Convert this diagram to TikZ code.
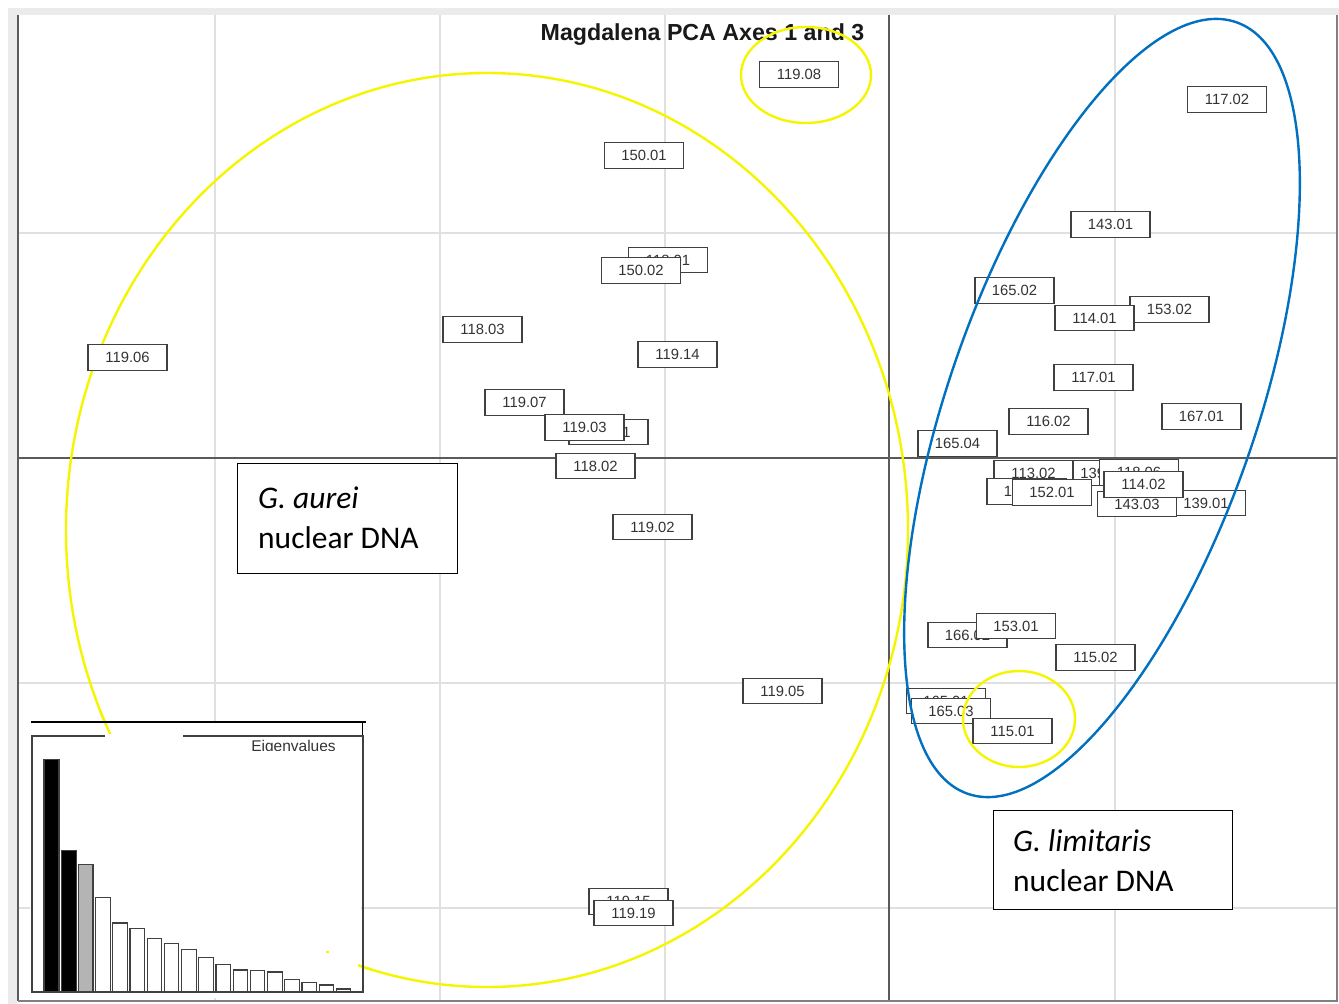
\documentclass[tikz,border=0pt]{standalone}
\usepackage{fontspec}
\setmainfont{Liberation Sans}
\newfontfamily\calfont{Carlito}
\definecolor{labc}{HTML}{404040}
\definecolor{labtext}{HTML}{333333}
\definecolor{gridc}{HTML}{E0E0E0}
\definecolor{axisc}{HTML}{5A5A5A}
\definecolor{bandc}{HTML}{EBEBEB}
\definecolor{yelc}{HTML}{F5F500}
\definecolor{bluc}{HTML}{0070C0}
\definecolor{barg}{HTML}{B4B4B4}
\tikzset{
  lab/.style={draw=labc, line width=1.2pt, fill=white, minimum width=79pt, minimum height=25.5pt, inner sep=0pt, font=\fontsize{14.8}{16}\selectfont, text=labtext},
  gridline/.style={draw=gridc, line width=1.2pt},
  axisline/.style={draw=axisc, line width=1.6pt},
  yel/.style={draw=yelc, line width=2.4pt},
  blu/.style={draw=bluc, line width=2.4pt},
  txtbox/.style={draw=black, line width=1.2pt, fill=white, inner sep=0pt, anchor=north west},
  txtlab/.style={anchor=west, align=left, inner sep=0pt, font=\calfont\fontsize{31.5}{40}\selectfont},
  barw/.style={draw=labc, line width=1.1pt, fill=white},
  barb/.style={draw=labc, line width=1.1pt, fill=black},
  bargr/.style={draw=labc, line width=1.1pt, fill=barg}
}
\begin{document}
\begin{tikzpicture}[x=1pt,y=-1pt]
\useasboundingbox (0,0) rectangle (1339,1004);
\fill[white] (0,0) rectangle (1339,1004);
% outer bands
\fill[bandc] (8,8) rectangle (1339,15);
\fill[bandc] (8,8) rectangle (17,1004);
% grid
\foreach \gx in {215,440,665,1115} \draw[gridline] (\gx,15) -- (\gx,1000);
\foreach \gy in {233,683,908} \draw[gridline] (18,\gy) -- (1336,\gy);
% frame
\draw[draw=axisc, line width=2pt] (18,15) -- (18,1001);
\draw[draw=gray, line width=2pt] (18,1001) -- (1337,1001) -- (1337,15);
% axes
\draw[axisline] (889,15) -- (889,1000);
\draw[axisline] (18,458) -- (1337,458);
% title
\node[font=\bfseries\fontsize{23.2}{26}\selectfont, text=black!90, anchor=base, inner sep=0pt] (title) at (702.5,40) {Magdalena PCA Axes 1 and 3};
% big yellow ellipse
\draw[yel] (487,530) ellipse [x radius=421, y radius=457];
% labels
\node[lab] (l11908) at (799,74.5) {119.08};
\node[lab] (l11702) at (1227,99.5) {117.02};
\node[lab] (l15001) at (644,155.5) {150.01};
\node[lab] (l14301) at (1110.5,224.5) {143.01};
\node[lab] (l11801) at (668,260) {118.01};
\node[lab] (l15002) at (641,270.5) {150.02};
\node[lab] (l16502) at (1014.5,290.5) {165.02};
\node[lab] (l15302) at (1169.5,309.5) {153.02};
\node[lab] (l11401) at (1094.5,318) {114.01};
\node[lab] (l11803) at (482.5,329.5) {118.03};
\node[lab] (l11906) at (127.5,357.5) {119.06};
\node[lab] (l11914) at (677.5,354.5) {119.14};
\node[lab] (l11701) at (1093.5,377.5) {117.01};
\node[lab] (l11907) at (524.5,402.5) {119.07};
\node[lab] (l11902) at (608.5,432) {119.01};
\node[lab] (l11903) at (584.5,427.5) {119.03};
\node[lab] (l11602) at (1048.5,421.5) {116.02};
\node[lab] (l16701) at (1201.5,416.5) {167.01};
\node[lab] (l16504) at (957.5,443.5) {165.04};
\node[lab] (l11802) at (595.5,466) {118.02};
\node[lab] (l13902) at (1103,473) {139.02};
\node[lab] (l11302) at (1033.5,473) {113.02};
\node[lab] (l16601) at (1026.5,491.5) {165.01};
\node[lab] (l15201) at (1052,492.5) {152.01};
\node[lab] (l11804) at (1139,472.5) {118.06};
\node[lab] (l13901) at (1206,503) {139.01};
\node[lab] (l14303) at (1137,504) {143.03};
\node[lab] (l11402) at (1143.5,484.5) {114.02};
\node[lab] (l11902b) at (652.5,527) {119.02};
\node[lab] (l16602) at (967.5,635) {166.02};
\node[lab] (l15301) at (1016,626) {153.01};
\node[lab] (l11502) at (1095.5,657.5) {115.02};
\node[lab] (l11905) at (782.5,691) {119.05};
\node[lab] (l16501) at (946,701) {165.01};
\node[lab] (l16503) at (951,711) {165.03};
\node[lab] (l11501) at (1012.5,731) {115.01};
\node[lab] (l11915) at (628.5,901.5) {119.15};
\node[lab] (l11919) at (633.5,913) {119.19};
% blue ellipse
\draw[blu, rotate around={70.8:(1102,408)}] (1102,408) ellipse [x radius=408.5, y radius=153.8];
% small yellow ellipses
\draw[yel] (806,75) ellipse [x radius=65, y radius=48];
\draw[yel] (1019,719) ellipse [x radius=56, y radius=48];
% text boxes
\node[txtbox, minimum width=220pt, minimum height=110pt] (aurei) at (237,463) {};
\node[txtlab] (aureitxt) at (258,517.5) {\textit{G. aurei}\\nuclear DNA};
\node[txtbox, minimum width=239pt, minimum height=99pt] (limit) at (993,810) {};
\node[txtlab] (limittxt) at (1013,861) {\textit{G. limitaris}\\nuclear DNA};
% inset
\fill[white] (30,722) rectangle (361,998);
\begin{scope}
\clip (95,712) rectangle (116,733);
\draw[yel] (487,530) ellipse [x radius=421, y radius=457];
\end{scope}
\begin{scope}
\clip (358,955) rectangle (372,980);
\draw[yel] (487,530) ellipse [x radius=421, y radius=457];
\end{scope}
\fill[yelc] (326,951) rectangle (328.5,953);
\draw[black, line width=1.3pt] (31,722) -- (366,722);
\draw[black, line width=1.3pt] (362.5,722) -- (362.5,974);
\draw[draw=labc, line width=1.1pt] (105,736) -- (32,736) -- (32,992) -- (363,992) -- (363,736) -- (183,736);
\begin{scope}
\clip (240,735) rectangle (345,750.3);
\node[anchor=base, inner sep=0pt, font=\fontsize{15.5}{18}\selectfont, text=labtext] (eig) at (293.5,751.5) {Eigenvalues};
\end{scope}
\draw[barb] (44,992) rectangle (59,759.3);
\draw[barb] (61.3,992) rectangle (76.3,850.7);
\draw[bargr] (78.5,992) rectangle (93,864.3);
\foreach \i/\t in {3/897.3,4/923,5/928.3,6/938.7,7/943.7,8/949.3,9/957.3,10/964.3,11/970,12/970.7,13/972,14/979.3,15/982.3,16/985,17/989}
  \draw[barw] ({44+17.2*\i},992) rectangle ({58.5+17.2*\i},\t);
\end{tikzpicture}
\end{document}
